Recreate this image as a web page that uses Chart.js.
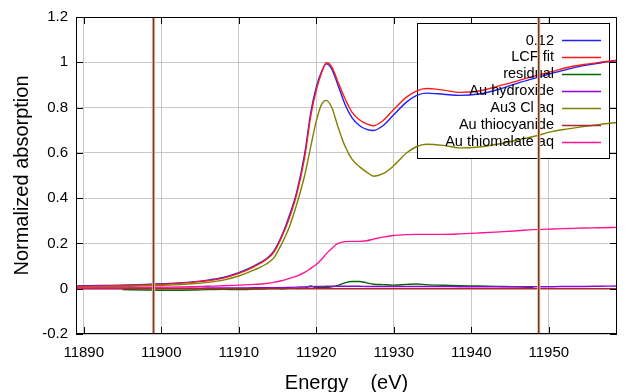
<!DOCTYPE html>
<html>
<head>
<meta charset="utf-8">
<script src="https://cdn.jsdelivr.net/npm/chart.js@4.4.1/dist/chart.umd.min.js"></script>
<style>
  html, body { margin: 0; padding: 0; background: #fff; }
  #chart { display: block; }
</style>
</head>
<body>
<canvas id="chart" width="640" height="392"></canvas>
<script>
// Energy grid (eV)
const energy = [11889, 11892, 11895, 11898, 11901, 11904, 11906, 11908, 11910, 11912,
  11913.5, 11914.5, 11915.5, 11916.5, 11917.5, 11918.5, 11919.3, 11920, 11920.7, 11921.3,
  11922, 11922.8, 11923.7, 11924.6, 11925.6, 11926.5, 11927.4, 11928.6, 11929.9, 11931.6,
  11932.9, 11934.2, 11936.4, 11938.5, 11941, 11943.7, 11946, 11948, 11950.5, 11952.5,
  11954.5, 11956.6, 11959];

// Series values
const sample012 = [0.012, 0.014, 0.016, 0.019, 0.023, 0.030, 0.038, 0.050, 0.071, 0.101,
  0.131, 0.165, 0.23, 0.32, 0.43, 0.595, 0.78, 0.89, 0.96, 0.993,
  0.97, 0.899, 0.815, 0.756, 0.72, 0.704, 0.699, 0.72, 0.765, 0.823,
  0.853, 0.864, 0.859, 0.854, 0.860, 0.882, 0.908, 0.928, 0.952, 0.97,
  0.985, 0.997, 1.007];
const lcfFit = [0.010, 0.012, 0.014, 0.017, 0.021, 0.028, 0.035, 0.047, 0.068, 0.098,
  0.128, 0.160, 0.225, 0.31, 0.42, 0.58, 0.765, 0.877, 0.955, 0.998,
  0.98, 0.913, 0.84, 0.78, 0.745, 0.728, 0.720, 0.742, 0.788, 0.845,
  0.873, 0.884, 0.877, 0.867, 0.873, 0.897, 0.918, 0.938, 0.96, 0.978,
  0.99, 1.0, 1.01];
const residual = [null, null, -0.004, -0.006, -0.007, -0.006, -0.004, -0.003, -0.004, -0.002,
  0.000, 0.001, 0.000, 0.002, 0.001, 0.003, 0.012, 0.004, 0.006, 0.005,
  0.008, 0.015, 0.026, 0.032, 0.032, 0.026, 0.020, 0.018, 0.016, 0.019,
  0.021, 0.018, 0.015, 0.013, 0.012, 0.010, 0.008, 0.005, null, null,
  null, null, null];
const auHydroxide = [0.001, 0.001, 0.001, 0.002, 0.002, 0.002, 0.003, 0.003, 0.003, 0.004,
  0.004, 0.005, 0.005, 0.006, 0.007, 0.008, 0.009, 0.010, 0.010, 0.011,
  0.011, 0.011, 0.011, 0.011, 0.011, 0.010, 0.010, 0.010, 0.010, 0.010,
  0.010, 0.010, 0.010, 0.009, 0.009, 0.009, 0.009, 0.009, 0.009, 0.010,
  0.010, 0.011, 0.012];
const au3ClAq = [0.006, 0.008, 0.010, 0.013, 0.016, 0.022, 0.028, 0.038, 0.056, 0.083,
  0.108, 0.135, 0.195, 0.27, 0.375, 0.50, 0.63, 0.74, 0.815, 0.832,
  0.80, 0.715, 0.63, 0.572, 0.538, 0.515, 0.497, 0.508, 0.54, 0.598,
  0.627, 0.638, 0.633, 0.622, 0.626, 0.64, 0.657, 0.672, 0.695, 0.706,
  0.716, 0.726, 0.735];
const auThiocyanide = [0, 0, 0, 0, 0, 0, 0, 0, 0, 0,
  0, 0, 0, 0, 0, 0, 0, 0, 0, 0,
  0, 0, 0, 0, 0, 0, 0, 0, 0, 0,
  0, 0, 0, 0, 0, 0, 0, 0, 0, 0,
  0, 0, 0];
const auThiomalate = [0.003, 0.004, 0.005, 0.006, 0.007, 0.009, 0.011, 0.013, 0.016, 0.019,
  0.023, 0.028, 0.035, 0.045, 0.056, 0.072, 0.09, 0.107, 0.13, 0.155,
  0.178, 0.200, 0.208, 0.209, 0.209, 0.212, 0.219, 0.228, 0.235, 0.239,
  0.240, 0.240, 0.240, 0.242, 0.246, 0.251, 0.256, 0.261, 0.264, 0.266,
  0.268, 0.269, 0.271];

const seriesNames = ['0.12', 'LCF fit', 'residual', 'Au hydroxide', 'Au3 Cl aq', 'Au thiocyanide', 'Au thiomalate aq'];
const seriesValues = [sample012, lcfFit, residual, auHydroxide, au3ClAq, auThiocyanide, auThiomalate];
const seriesColors = ['#1f1fff', '#ff1a1a', '#006a00', '#9400d3', '#808000', '#a52a2a', '#ff1493'];

const xTicks = [11890, 11900, 11910, 11920, 11930, 11940, 11950];
const yTicks = [-0.2, 0, 0.2, 0.4, 0.6, 0.8, 1, 1.2];
const fitRange = [11899.0, 11948.7];

const FONT = 'Arial, "Liberation Sans", sans-serif';

const datasets = seriesNames.map((name, i) => ({
  label: name,
  data: energy.map((e, j) => ({ x: e, y: seriesValues[i][j] })),
  borderColor: seriesColors[i],
  borderWidth: 1.4,
  pointRadius: 0,
  fill: false,
  cubicInterpolationMode: 'monotone',
  spanGaps: false,
  order: seriesNames.length - i   // later series drawn on top
}));

// frame, inner ticks, legend box and fit-range markers
const framePlugin = {
  id: 'frame',
  beforeDatasetsDraw(chart) {
    const { ctx } = chart;
    ctx.save();
    ctx.fillStyle = '#fff';
    ctx.fillRect(417, 23, 192, 135);
    ctx.strokeStyle = '#000';
    ctx.lineWidth = 1;
    ctx.strokeRect(417.5, 23.5, 192, 135);
    ctx.restore();
  },
  afterDatasetsDraw(chart) {
    const { ctx, chartArea: a, scales: { x, y } } = chart;
    ctx.save();
    // legend entries
    ctx.font = '14.5px ' + FONT;
    ctx.textAlign = 'right';
    ctx.textBaseline = 'middle';
    seriesNames.forEach((name, i) => {
      const yy = 40 + i * 16.95;
      ctx.fillStyle = '#000';
      ctx.fillText(name, 554, yy + 0.5);
      ctx.strokeStyle = seriesColors[i];
      ctx.lineWidth = 1.4;
      ctx.beginPath();
      ctx.moveTo(562, Math.round(yy) + 0.5);
      ctx.lineTo(601, Math.round(yy) + 0.5);
      ctx.stroke();
    });

    // frame
    ctx.strokeStyle = '#000';
    ctx.lineWidth = 1;
    ctx.strokeRect(a.left + 0.5, a.top + 0.5, a.right - a.left - 1, a.bottom - a.top - 1);
    // inward ticks on all four sides
    ctx.beginPath();
    xTicks.forEach(v => {
      const px = Math.round(x.getPixelForValue(v)) + 0.5;
      ctx.moveTo(px, a.bottom); ctx.lineTo(px, a.bottom - 7);
      ctx.moveTo(px, a.top); ctx.lineTo(px, a.top + 7);
    });
    yTicks.forEach(v => {
      const py = Math.round(y.getPixelForValue(v)) + 0.5;
      ctx.moveTo(a.left, py); ctx.lineTo(a.left + 7, py);
      ctx.moveTo(a.right, py); ctx.lineTo(a.right - 7, py);
    });
    ctx.stroke();

    // fit range markers
    fitRange.forEach(v => {
      const px = x.getPixelForValue(v);
      ctx.strokeStyle = '#f0c8b4';
      ctx.lineWidth = 3.2;
      ctx.beginPath(); ctx.moveTo(px, a.top + 1); ctx.lineTo(px, a.bottom - 1); ctx.stroke();
      ctx.strokeStyle = '#7a3620';
      ctx.lineWidth = 1.5;
      ctx.beginPath(); ctx.moveTo(px, a.top + 1); ctx.lineTo(px, a.bottom - 1); ctx.stroke();
    });
    ctx.restore();
  }
};

new Chart(document.getElementById('chart'), {
  type: 'line',
  data: { datasets },
  options: {
    responsive: false,
    animation: false,
    events: [],
    layout: { padding: { left: 0, top: 16, right: 23, bottom: 0 } },
    plugins: { legend: { display: false }, tooltip: { enabled: false } },
    scales: {
      x: {
        type: 'linear',
        min: 11889,
        max: 11958.8,
        afterFit: s => { s.height = 58; },
        afterBuildTicks: s => { s.ticks = xTicks.map(v => ({ value: v })); },
        grid: { color: '#c8c8c8', lineWidth: 1, drawTicks: false },
        border: { display: false },
        ticks: { color: '#000', font: { family: FONT, size: 15 }, padding: 10, maxRotation: 0, callback: v => String(v) },
        title: { display: true, text: 'Energy    (eV)', color: '#000', font: { family: FONT, size: 20, lineHeight: 1 }, padding: { top: 0, bottom: -1 } }
      },
      y: {
        type: 'linear',
        min: -0.2,
        max: 1.2,
        afterFit: s => { s.width = 76; },
        afterBuildTicks: s => { s.ticks = yTicks.map(v => ({ value: v })); },
        grid: { color: '#c8c8c8', lineWidth: 1, drawTicks: false },
        border: { display: false },
        ticks: { color: '#000', font: { family: FONT, size: 15 }, padding: 8, callback: v => String(+v.toFixed(1)) },
        title: { display: true, text: 'Normalized absorption', color: '#000', font: { family: FONT, size: 20, lineHeight: 1 }, padding: { top: 12, bottom: 0 } }
      }
    }
  },
  plugins: [framePlugin]
});
</script>
</body>
</html>
